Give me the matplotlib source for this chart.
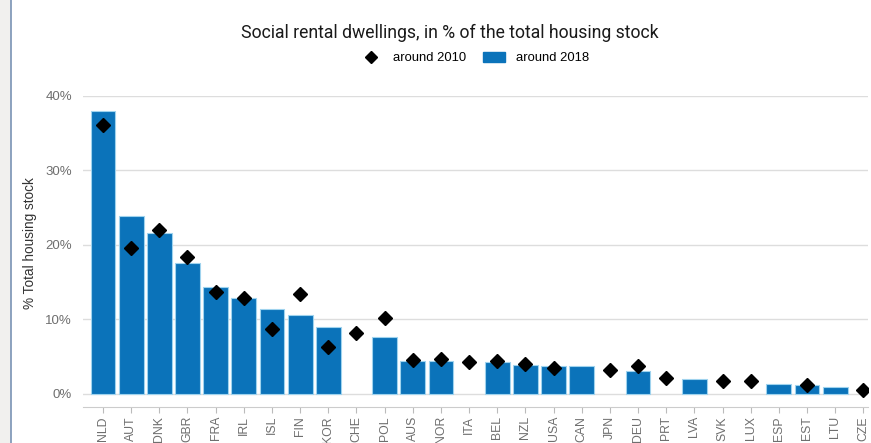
import numpy as np
import matplotlib.pyplot as plt
import matplotlib.lines as mlines
import matplotlib.patches as mpatches

# Social rental housing, share of total dwellings (%)
countries = ["NLD", "AUT", "DNK", "GBR", "FRA", "IRL", "ISL", "FIN", "KOR", "CHE",
             "POL", "AUS", "NOR", "ITA", "BEL", "NZL", "USA", "CAN", "JPN", "DEU",
             "PRT", "LVA", "SVK", "LUX", "ESP", "EST", "LTU", "CZE"]
share_2018 = [37.9, 23.9, 21.5, 17.6, 14.3, 12.9, 11.3, 10.6, 8.9, np.nan,
              7.6, 4.4, 4.4, np.nan, 4.3, 3.9, 3.7, 3.7, np.nan, 3.0,
              np.nan, 2.0, np.nan, np.nan, 1.3, 1.1, 0.9, np.nan]
share_2010 = [36.1, 19.6, 21.9, 18.3, 13.7, 12.8, 8.7, 13.4, 6.3, 8.1,
              10.1, 4.5, 4.7, 4.3, 4.4, 4.0, 3.5, np.nan, 3.2, 3.7,
              2.1, np.nan, 1.7, 1.7, np.nan, 1.2, np.nan, 0.5]
yticks = [0, 10, 20, 30, 40]

blue = "#0B73BA"
grey_txt = "#6e6e6e"

fig = plt.figure(figsize=(8.71, 4.43), dpi=100)
ax = fig.add_axes([0.0953, 0.0813, 0.9017, 0.7027])

x = np.arange(len(countries))
ax.bar(x, share_2018, width=0.88, color=blue, edgecolor="#9fd3ee",
       linewidth=0.8, zorder=2)
ax.plot(x, share_2010, linestyle="none", marker="D", markersize=7,
        color="black", zorder=3)

ax.set_xlim(-0.71, len(countries) - 0.82)
ax.set_ylim(-1.8, 40)
ax.set_yticks(yticks)
ax.set_yticklabels([f"{t}%" for t in yticks], fontsize=9.5,
                   color=grey_txt, family="Liberation Sans")
ax.set_xticks(x)
ax.set_xticklabels(countries, rotation=90, fontsize=8.8, color=grey_txt,
                   family="Liberation Sans")
ax.tick_params(axis="y", length=0, pad=8)
ax.tick_params(axis="x", length=4, color="#bbbbbb", pad=2.5)

ax.grid(axis="y", color="#dddddd", linewidth=1, zorder=0)
for s in ["top", "right", "left"]:
    ax.spines[s].set_visible(False)
ax.spines["bottom"].set_color("#cccccc")

ax.set_ylabel("% Total housing stock", fontsize=9.8, color="#333333",
              family="Liberation Sans")
ax.yaxis.set_label_coords(-0.058, 0.527)

fig.text(0.516, 0.925, "Social rental dwellings, in % of the total housing stock",
         ha="center", va="center", fontsize=12.7, family="Roboto", color="#1a1a1a")

h1 = mlines.Line2D([], [], linestyle="none", marker="D", markersize=6, color="black")
h2 = mpatches.Patch(color=blue)
fig.legend([h1, h2], ["around 2010", "around 2018"], loc="center",
           bbox_to_anchor=(0.545, 0.869), ncol=2, frameon=False,
           prop={"family": "Liberation Sans", "size": 9.4},
           handlelength=1.7, handleheight=0.8, handletextpad=0.8,
           columnspacing=1.3)

# screenshot frame on the left
fig.add_artist(mpatches.Rectangle((0, 0), 0.012, 1, transform=fig.transFigure,
                                  color="#f1f0ee", zorder=0))
fig.add_artist(mlines.Line2D([0.0125, 0.0125], [0, 1], transform=fig.transFigure,
                             color="#7a93b5", linewidth=1.2))

fig.savefig("out.png", dpi=100)
